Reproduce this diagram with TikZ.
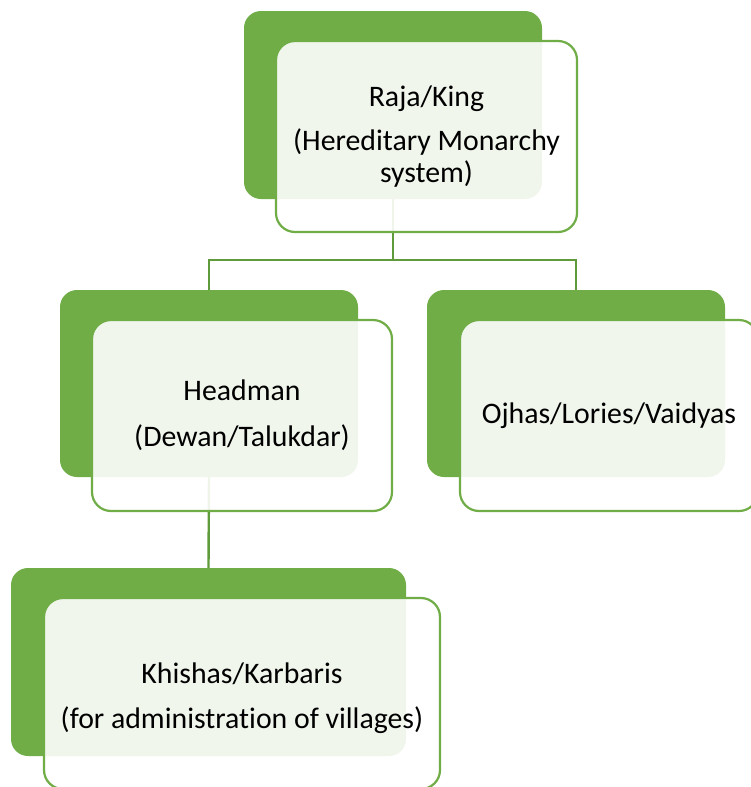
\documentclass[tikz,border=0pt]{standalone}
\usepackage{fontspec}
\setmainfont[Ligatures=NoCommon]{Carlito}
\definecolor{leaf}{HTML}{70AD47}
\definecolor{stem}{HTML}{5F9A3B}
\tikzset{
  backbox/.style={draw=none, fill=leaf, rounded corners=17pt, inner sep=0pt},
  frontbox/.style={draw=leaf, line width=2.2pt, fill=white, fill opacity=0.9,
    text opacity=1, rounded corners=19pt, inner sep=0pt, align=center,
    font=\fontsize{29.8}{32}\selectfont},
  link/.style={draw=stem, line width=2.4pt}
}
\begin{document}
\begin{tikzpicture}[x=1pt,y=-1pt]
\useasboundingbox (0,0) rectangle (750,787);

% green back plates
\node[backbox, minimum width=298pt, minimum height=188pt] (kingB) at (393,105) {};
\node[backbox, minimum width=298pt, minimum height=187pt] (headB) at (209,383.5) {};
\node[backbox, minimum width=298pt, minimum height=187pt] (ojhaB) at (576,383.5) {};
\node[backbox, minimum width=395pt, minimum height=188pt] (khisB) at (208.5,662) {};

% connectors, drawn under the translucent front cards
\coordinate (bar) at (393,260);
\draw[link] (kingB.south) -- (bar);
\draw[link] (kingB.south |- bar) -- (headB.north |- bar) -- (headB.north);
\draw[link] (kingB.south |- bar) -- (ojhaB.north |- bar) -- (ojhaB.north);
\draw[link] (headB.south) -- (khisB.north);

% front cards with text
\node[frontbox, minimum width=301pt, minimum height=191pt] (king) at (426.5,136.5)
  {Raja/King\\[12pt](Hereditary Monarchy\\system)};
\node[frontbox, minimum width=300pt, minimum height=191pt] (head) at (242,415.5)
  {Headman\\[14pt](Dewan/Talukdar)};
\node[frontbox, minimum width=298pt, minimum height=191pt] (ojha) at (609,415.5)
  {Ojhas/Lories/Vaidyas};
\node[frontbox, minimum width=396pt, minimum height=191pt] (khis) at (242,693.5)
  {\rule{0pt}{30pt}Khishas/Karbaris\\[13pt](for administration of villages)};
\end{tikzpicture}
\end{document}
